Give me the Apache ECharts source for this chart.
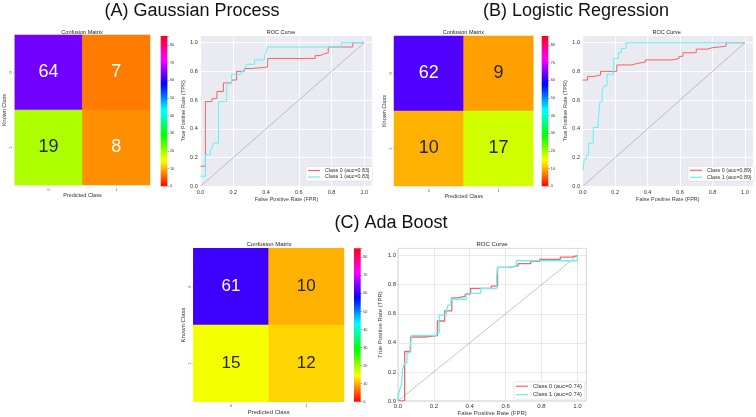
<!DOCTYPE html>
<html><head><meta charset="utf-8">
<script src="https://cdn.jsdelivr.net/npm/echarts@6.0.0/dist/echarts.min.js"></script>
<style>html,body{margin:0;padding:0;background:#fff}#c{width:756px;height:417px}</style>
</head><body><div id="c"></div>
<script>
// ---------------- DATA ----------------
const cmCategories = ['0', '1'];
// rows = known class, columns = predicted class
const cmA = [[64, 7], [19, 8]];
const cmB = [[62, 9], [10, 17]];
const cmC = [[61, 10], [15, 12]];
const colorbarMax = 85;

const aucA = 0.83, aucB = 0.89, aucC = 0.74;

const rocA0_fpr = [0,0.03,0.03,0.07,0.07,0.10,0.10,0.14,0.14,0.19,0.19,0.22,0.22,0.26,0.26,0.27,0.27,0.31,0.31,0.41,0.41,0.70,0.70,0.73,0.73,0.75,0.75,0.78,0.78,0.93,0.93,1.00];
const rocA0_tpr = [0.14,0.14,0.59,0.59,0.61,0.61,0.66,0.66,0.72,0.72,0.74,0.74,0.80,0.80,0.81,0.81,0.82,0.82,0.83,0.83,0.89,0.89,0.91,0.91,0.92,0.92,0.93,0.93,0.97,0.97,1.00,1.00];
const rocA1_fpr = [0,0.03,0.03,0.06,0.06,0.07,0.07,0.08,0.08,0.11,0.11,0.16,0.16,0.17,0.17,0.19,0.19,0.25,0.25,0.27,0.27,0.28,0.28,0.33,0.33,0.39,0.39,0.40,0.40,0.41,0.41,0.86,0.86,1.00];
const rocA1_tpr = [0.07,0.07,0.22,0.22,0.25,0.25,0.27,0.27,0.30,0.30,0.59,0.59,0.71,0.71,0.72,0.72,0.78,0.78,0.80,0.80,0.82,0.82,0.85,0.85,0.88,0.88,0.91,0.91,0.93,0.93,0.97,0.97,1.00,1.00];

const rocB0_fpr = [0,0.03,0.03,0.07,0.07,0.11,0.11,0.21,0.21,0.305,0.305,0.333,0.333,0.386,0.386,0.553,0.553,0.593,0.593,0.618,0.618,0.70,0.70,0.766,0.766,0.80,0.80,0.884,0.884,1.00];
const rocB0_tpr = [0.74,0.74,0.765,0.765,0.775,0.775,0.80,0.80,0.845,0.845,0.855,0.855,0.865,0.865,0.88,0.88,0.89,0.89,0.905,0.905,0.93,0.93,0.955,0.955,0.965,0.965,0.975,0.975,1.00,1.00];
const rocB1_fpr = [0,0.01,0.01,0.024,0.024,0.037,0.037,0.065,0.065,0.095,0.095,0.106,0.106,0.12,0.12,0.132,0.132,0.15,0.15,0.19,0.19,0.22,0.22,0.238,0.238,0.268,0.268,1.00];
const rocB1_tpr = [0.11,0.11,0.19,0.19,0.22,0.22,0.30,0.30,0.41,0.41,0.45,0.45,0.59,0.59,0.67,0.67,0.70,0.70,0.78,0.78,0.89,0.89,0.93,0.93,0.96,0.96,1.00,1.00];

const rocC0_fpr = [0,0.037,0.037,0.07,0.07,0.15,0.15,0.22,0.22,0.26,0.26,0.30,0.30,0.33,0.33,0.374,0.374,0.405,0.405,0.52,0.52,0.555,0.555,0.62,0.62,0.67,0.67,0.74,0.74,0.79,0.79,0.905,0.905,0.97,0.97,1.00];
const rocC0_tpr = [0,0,0.34,0.34,0.44,0.44,0.45,0.45,0.55,0.55,0.62,0.62,0.71,0.71,0.72,0.72,0.735,0.735,0.775,0.775,0.79,0.79,0.92,0.92,0.93,0.93,0.945,0.945,0.96,0.96,0.975,0.975,0.99,0.99,1.00,1.00];
const rocC1_fpr = [0,0,0.01,0.01,0.02,0.02,0.026,0.026,0.037,0.037,0.05,0.05,0.067,0.067,0.076,0.076,0.215,0.215,0.23,0.23,0.27,0.27,0.28,0.28,0.295,0.295,0.38,0.38,0.46,0.46,0.55,0.55,0.555,0.555,0.62,0.62,0.66,0.66,1.00,1.00];
const rocC1_tpr = [0,0.03,0.03,0.08,0.08,0.11,0.11,0.22,0.22,0.26,0.26,0.33,0.33,0.37,0.37,0.45,0.45,0.47,0.47,0.59,0.59,0.63,0.63,0.66,0.66,0.70,0.70,0.74,0.74,0.775,0.775,0.85,0.85,0.92,0.92,0.93,0.93,0.965,0.965,1.00];

const diagX = [0, 1];
const diagY = [0, 1];

// ---------------- COLORMAP (matplotlib "hsv") ----------------
const HSV_R = [[0,1],[0.15873,1],[0.174603,0.96875],[0.333333,0.03125],[0.349206,0],[0.666667,0],[0.68254,0.03125],[0.84127,0.96875],[0.857143,1],[1,1]];
const HSV_G = [[0,0],[0.15873,0.9375],[0.174603,1],[0.507937,1],[0.666667,0.0625],[0.68254,0],[1,0]];
const HSV_B = [[0,0],[0.333333,0],[0.349206,0.0625],[0.507937,1],[0.84127,1],[0.857143,0.9375],[1,0.09375]];
function segInterp(pts, t) {
  for (let i = 1; i < pts.length; i++) {
    if (t <= pts[i][0]) {
      const [x0, y0] = pts[i-1], [x1, y1] = pts[i];
      return y0 + (y1 - y0) * (t - x0) / (x1 - x0);
    }
  }
  return pts[pts.length-1][1];
}
function hsvRGB(t) { return [segInterp(HSV_R, t), segInterp(HSV_G, t), segInterp(HSV_B, t)]; }
function toHex(rgb) { return '#' + rgb.map(c => Math.round(c*255).toString(16).padStart(2,'0')).join(''); }
function lum(rgb) { const f = c => c <= 0.04045 ? c/12.92 : Math.pow((c+0.055)/1.055, 2.4); return 0.2126*f(rgb[0]) + 0.7152*f(rgb[1]) + 0.0722*f(rgb[2]); }
const cmapColors = [];
for (let i = 0; i <= colorbarMax; i++) cmapColors.push(toHex(hsvRGB(i / colorbarMax)));
const cbStops = cmapColors.map((c, i) => ({ offset: i / colorbarMax, color: c }));
function annotColor(v) { return lum(hsvRGB(Math.min(1, v / colorbarMax))) > 0.408 ? '#262626' : '#ffffff'; }

// ---------------- LAYOUT ----------------
const FONT = 'Liberation Sans';
const panels = [
  { cm: cmA, title: '(A) Gaussian Process', titlePos: [192, 2],
    cmRect: { left: 14, top: 35, width: 136, height: 150 }, cmTitle: [82, 29.2], cmFont: 18, smallFont: 5.5,
    cmXGap: 7.2, cmYGap: 7.8,
    cbRect: { left: 160.7, top: 36, width: 6.7, height: 150.3 },
    rocRect: { left: 200.5, top: 35.5, width: 172, height: 150.8 }, rocTitle: [281, 29.2],
    rocXGap: 8.2, rocYGap: 11, rocXMargin: 3.2, rocYMargin: 2.8,
    legend: { left: 306, top: 166.5 }, legendFont: 5.3, legendGap: 1.5,
    roc: [[rocA0_fpr, rocA0_tpr], [rocA1_fpr, rocA1_tpr]], auc: aucA, style: 'dark' },
  { cm: cmB, title: '(B) Logistic Regression', titlePos: [576, 2],
    cmRect: { left: 394, top: 36, width: 139.3, height: 150 }, cmTitle: [463.3, 29.2], cmFont: 18, smallFont: 5.5,
    cmXGap: 6.2, cmYGap: 6.3,
    cbRect: { left: 541.7, top: 36, width: 6.6, height: 150.3 },
    rocRect: { left: 582.7, top: 35.5, width: 172.2, height: 150.8 }, rocTitle: [666.7, 29.2],
    rocXGap: 8.2, rocYGap: 12.7, rocXMargin: 3.2, rocYMargin: 2.7,
    legend: { left: 688, top: 166.3 }, legendFont: 5.3, legendGap: 2,
    roc: [[rocB0_fpr, rocB0_tpr], [rocB1_fpr, rocB1_tpr]], auc: aucB, style: 'dark' },
  { cm: cmC, title: '(C) Ada Boost', titlePos: [391, 214.5],
    cmRect: { left: 193.3, top: 248.3, width: 150.7, height: 153.4 }, cmTitle: [269, 241.2], cmFont: 17, smallFont: 6,
    cmXGap: 5.3, cmYGap: 7,
    cbRect: { left: 354, top: 248.3, width: 6.7, height: 153.4 },
    rocRect: { left: 398, top: 248.4, width: 188.3, height: 153.3 }, rocTitle: [492, 241.2],
    rocXGap: 7.3, rocYGap: 11.7, rocXMargin: 2.2, rocYMargin: 2,
    legend: { left: 514, top: 381.7 }, legendFont: 5.8, legendGap: 2.5,
    roc: [[rocC0_fpr, rocC0_tpr], [rocC1_fpr, rocC1_tpr]], auc: aucC, style: 'white' }
];
const lineColors = ['#f46464', '#62f2f2'];

// ---------------- BUILD OPTION ----------------
const option = {
  animation: false,
  backgroundColor: '#ffffff',
  textStyle: { fontFamily: FONT },
  title: [], grid: [], xAxis: [], yAxis: [], series: [], legend: [],
  visualMap: [{ type: 'continuous', show: false, min: 0, max: colorbarMax, dimension: 2, seriesIndex: [], inRange: { color: cmapColors } }]
};

panels.forEach((p, pi) => {
  const fs = p.smallFont;
  option.title.push({ text: p.title, left: p.titlePos[0], top: p.titlePos[1], textAlign: 'center', padding: 0,
    textStyle: { fontSize: 18, fontWeight: 'normal', color: '#111', fontFamily: FONT } });
  option.title.push({ text: 'Confusion Matrix', left: p.cmTitle[0], top: p.cmTitle[1], textAlign: 'center', padding: 0,
    textStyle: { fontSize: fs, fontWeight: 'normal', color: '#222', fontFamily: FONT } });
  option.title.push({ text: 'ROC Curve', left: p.rocTitle[0], top: p.rocTitle[1], textAlign: 'center', padding: 0,
    textStyle: { fontSize: fs, fontWeight: 'normal', color: '#222', fontFamily: FONT } });

  // --- confusion matrix heatmap
  const gCM = option.grid.length;
  option.grid.push(Object.assign({ show: false }, p.cmRect));
  option.xAxis.push({ type: 'category', gridIndex: gCM, data: cmCategories,
    name: 'Predicted Class', nameLocation: 'middle', nameGap: p.cmXGap,
    nameTextStyle: { fontSize: fs, color: '#333', fontFamily: FONT },
    axisLine: { show: false }, axisTick: { show: true, alignWithLabel: true, length: 1.2, lineStyle: { color: '#aaa', width: 0.5 } },
    axisLabel: { fontSize: 3.8, color: '#555', margin: 2.5 }, splitLine: { show: false } });
  option.yAxis.push({ type: 'category', gridIndex: gCM, data: cmCategories, inverse: true,
    name: 'Known Class', nameLocation: 'middle', nameGap: p.cmYGap,
    nameTextStyle: { fontSize: fs, color: '#333', fontFamily: FONT },
    axisLine: { show: false }, axisTick: { show: true, alignWithLabel: true, length: 1.2, lineStyle: { color: '#aaa', width: 0.5 } },
    axisLabel: { fontSize: 3.8, color: '#555', margin: 1.5, rotate: 90 }, splitLine: { show: false } });
  const hmData = [];
  p.cm.forEach((row, r) => row.forEach((v, c) => {
    hmData.push({ value: [c, r, v], label: { color: annotColor(v) } });
  }));
  option.visualMap[0].seriesIndex.push(option.series.length);
  option.series.push({ type: 'heatmap', xAxisIndex: gCM, yAxisIndex: gCM, data: hmData,
    label: { show: true, fontSize: p.cmFont, fontFamily: FONT }, itemStyle: { borderWidth: 0 },
    emphasis: { disabled: true }, silent: true });

  // --- colorbar
  const gCB = option.grid.length;
  option.grid.push(Object.assign({ show: false }, p.cbRect));
  option.xAxis.push({ type: 'category', gridIndex: gCB, data: [''], show: false });
  option.yAxis.push({ type: 'value', gridIndex: gCB, min: 0, max: colorbarMax, interval: 10, position: 'right',
    axisLine: { show: false }, axisTick: { show: true, length: 1.5, lineStyle: { color: '#444', width: 0.5 } },
    axisLabel: { fontSize: 3.8, color: '#333', margin: 2.5, formatter: v => (v % 10 === 0 ? String(v) : '') },
    splitLine: { show: false } });
  option.series.push({ type: 'bar', xAxisIndex: gCB, yAxisIndex: gCB, data: [colorbarMax], barWidth: '100%',
    itemStyle: { color: new echarts.graphic.LinearGradient(0, 1, 0, 0, cbStops) }, silent: true });

  // --- ROC
  const dark = p.style === 'dark';
  const gR = option.grid.length;
  option.grid.push(Object.assign({ show: true, backgroundColor: dark ? '#eaeaf2' : '#ffffff',
    borderWidth: dark ? 0 : 0.8, borderColor: '#c8c8c8' }, p.rocRect));
  const axisCommon = (name, gap, margin) => ({
    type: 'value', gridIndex: gR, min: 0, max: 1.05, interval: 0.2,
    name: name, nameLocation: 'middle', nameGap: gap,
    nameTextStyle: { fontSize: fs, color: '#3a3a4a', fontFamily: FONT },
    axisLine: { show: false }, axisTick: { show: false },
    axisLabel: { fontSize: fs, color: '#333', margin: margin, formatter: v => (v > 1.001 ? '' : v.toFixed(1)) },
    splitLine: { show: true, lineStyle: { color: dark ? '#ffffff' : '#e2e2e2', width: dark ? 0.9 : 0.8 } }
  });
  option.xAxis.push(axisCommon('False Positive Rate (FPR)', p.rocXGap, p.rocXMargin));
  option.yAxis.push(axisCommon('True Positive Rate (TPR)', p.rocYGap, p.rocYMargin));
  const names = [];
  p.roc.forEach(([fpr, tpr], k) => {
    const nm = 'Class ' + k + ' (auc=' + p.auc.toFixed(2) + ')';
    names.push(nm);
    option.series.push({ type: 'line', name: nm, xAxisIndex: gR, yAxisIndex: gR,
      data: fpr.map((x, i) => [x, tpr[i]]), symbol: 'none', showSymbol: false,
      lineStyle: { color: lineColors[k], width: dark ? 1 : 1.3 }, itemStyle: { color: lineColors[k] },
      emphasis: { disabled: true }, z: 3 + k });
  });
  option.series.push({ type: 'line', xAxisIndex: gR, yAxisIndex: gR, data: diagX.map((x, i) => [x, diagY[i]]),
    symbol: 'none', lineStyle: { color: '#9a9a9a', width: 0.6 }, silent: true, z: 2 });
  option.legend.push({ data: names, orient: 'vertical', left: p.legend.left, top: p.legend.top,
    backgroundColor: '#ffffff', borderColor: '#d4d4d4', borderWidth: 0.5, borderRadius: 1.5,
    padding: [1.5, 3, 1.5, 2], icon: 'rect', itemWidth: 12, itemHeight: 1.2, itemGap: p.legendGap, selectedMode: false,
    textStyle: { fontSize: p.legendFont, color: '#333', fontFamily: FONT } });
});

const chart = echarts.init(document.getElementById('c'), null, { renderer: 'canvas', width: 756, height: 417 });
chart.setOption(option);
</script>
</body></html>
